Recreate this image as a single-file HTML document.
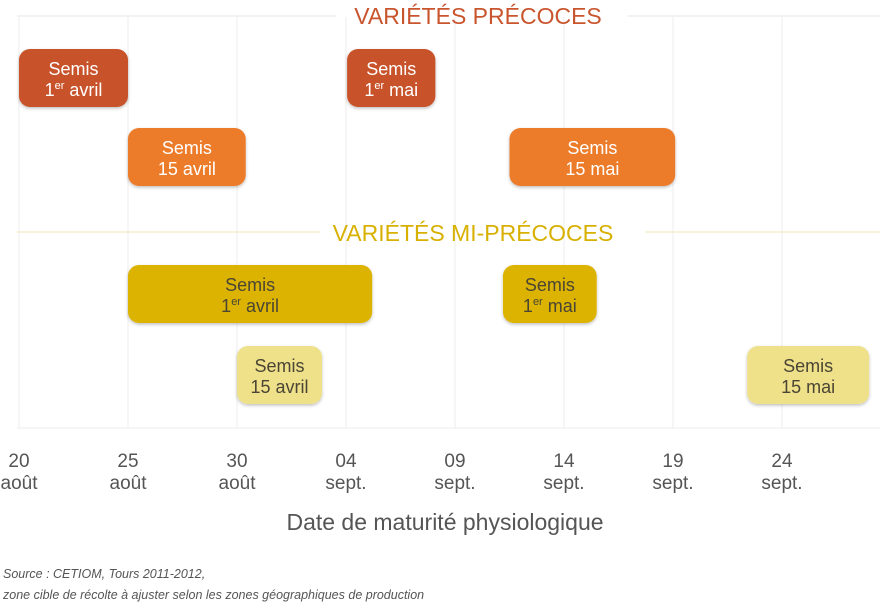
<!DOCTYPE html>
<html><head><meta charset="utf-8"><style>
body{margin:0;background:#fff;}
svg{display:block;font-family:"Liberation Sans",sans-serif;}
</style></head><body>
<svg id="c" width="880" height="613" xmlns="http://www.w3.org/2000/svg">
<defs><filter id="sh" x="-10%" y="-10%" width="120%" height="130%"><feDropShadow dx="0" dy="1.5" stdDeviation="1.5" flood-color="#000" flood-opacity="0.25"/></filter></defs>
<g id="grid"></g>
<line x1="17" y1="16" x2="336" y2="16" stroke="#e4e4e4"/>
<line x1="628" y1="16" x2="880" y2="16" stroke="#e4e4e4"/>
<line x1="17" y1="232" x2="320" y2="232" stroke="#efe6b8"/>
<line x1="645" y1="232" x2="880" y2="232" stroke="#efe6b8"/>
<line x1="17" y1="428" x2="880" y2="428" stroke="#ececec"/>
<text x="478" y="24" text-anchor="middle" font-size="23" fill="#c9552e">VARIÉTÉS PRÉCOCES</text>
<text x="473" y="241" text-anchor="middle" font-size="23" fill="#d8b000">VARIÉTÉS MI-PRÉCOCES</text>
<g id="bars"></g>
<g id="ticks"></g>
<text x="445" y="530" text-anchor="middle" font-size="23" fill="#555">Date de maturité physiologique</text>
<text x="3" y="578" font-size="12.5" font-style="italic" fill="#555">Source : CETIOM, Tours 2011-2012,</text>
<text x="3" y="599" font-size="12.5" font-style="italic" fill="#555">zone cible de récolte à ajuster selon les zones géographiques de production</text>
</svg>
<script>
const tickDays=[0,5,10,15,20,25,30,35];
const tickTop=["20","25","30","04","09","14","19","24"];
const tickBottom=["août","août","août","sept.","sept.","sept.","sept.","sept."];
const barLabels=["1er avril","1er mai","15 avril","15 mai","1er avril","1er mai","15 avril","15 mai"];
const barStart=[0,15.05,5,22.5,5,22.2,10,33.4];
const barEnd=[5,19.1,10.4,30.1,16.2,26.5,13.9,39];
const barRow=[0,0,1,1,2,2,3,3];
const rowTop=[49,128,265,346];
const rowFill=["#c8532b","#ec7c2c","#dbb302","#efe08a"];
const rowText=["#fff","#fff","#4a4535","#4a4535"];
const NS="http://www.w3.org/2000/svg";
const x=d=>19+d*21.8;
function mk(t,a,p){const e=document.createElementNS(NS,t);for(const k in a)e.setAttribute(k,a[k]);p.appendChild(e);return e;}
const grid=document.getElementById('grid'),ticks=document.getElementById('ticks'),bars=document.getElementById('bars');
tickDays.forEach((d,i)=>{
 const l=mk('line',{x1:x(d),x2:x(d),y1:17,y2:428,stroke:'#ececec'},grid);
 
 
 const t=mk('text',{x:x(d),y:467,'text-anchor':'middle','font-size':19,fill:'#555'},ticks);
 
 
 mk('tspan',{x:x(d)},t).textContent=tickTop[i];
 mk('tspan',{x:x(d),dy:22},t).textContent=tickBottom[i];
});
barLabels.forEach((lab,i)=>{
 const r=barRow[i],x0=x(barStart[i]),x1=x(barEnd[i]),y=rowTop[r],cx=(x0+x1)/2;
 const g=mk('g',{},bars);
 
 
 mk('rect',{x:x0,y:y,width:x1-x0,height:58,rx:11,fill:rowFill[r],filter:'url(#sh)'},g);
 const t1=mk('text',{x:cx,y:y+26,'text-anchor':'middle','font-size':18,fill:rowText[r]},g);
 t1.textContent='Semis';
 const t2=mk('text',{x:cx,y:y+47,'text-anchor':'middle','font-size':18,fill:rowText[r]},g);
 if(lab.startsWith('1er')){
  mk('tspan',{},t2).textContent='1';
  mk('tspan',{'font-size':11,dy:-7},t2).textContent='er';
  mk('tspan',{dy:7},t2).textContent=' '+lab.slice(4);
 } else t2.textContent=lab;
});
</script>
</body></html>
